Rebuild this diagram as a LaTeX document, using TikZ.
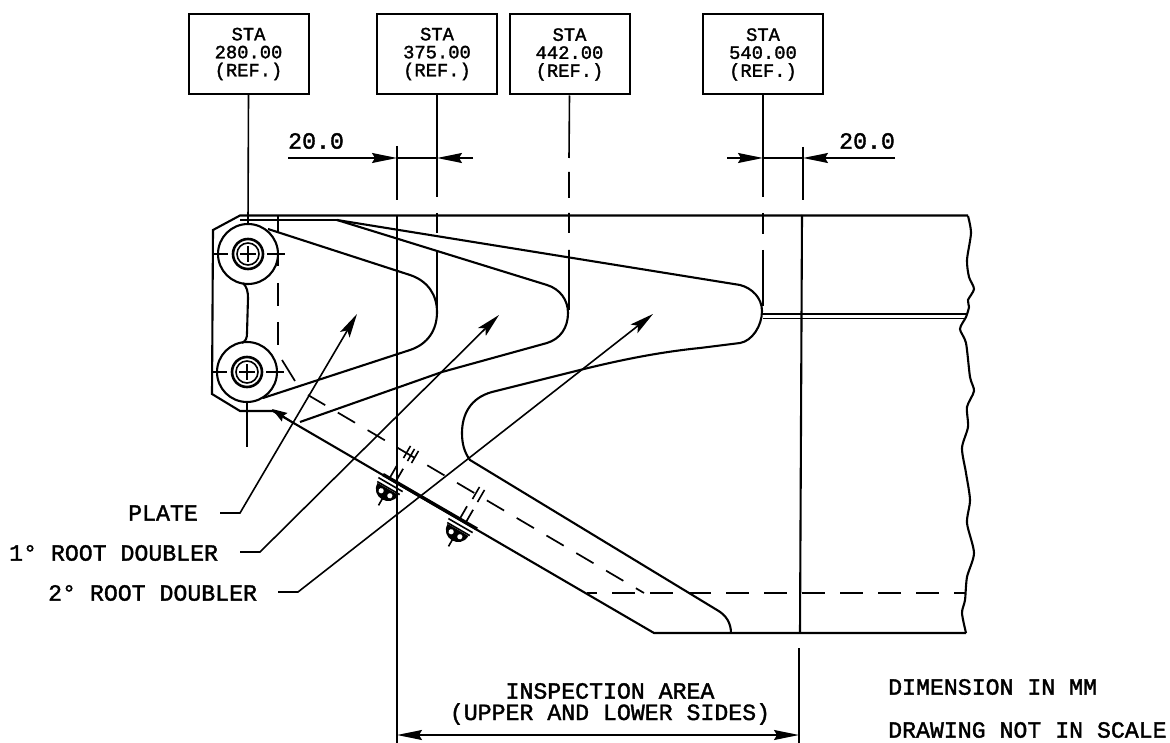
\documentclass[tikz,border=0pt]{standalone}
\usepackage{fontspec}
\setmainfont[FakeBold=1.6]{Liberation Mono}
\usetikzlibrary{arrows.meta}
\tikzset{
  stabox/.style={draw,line width=2pt,minimum width=120pt,minimum height=80pt,inner sep=0pt,align=center,
    font=\fontsize{18.8}{18}\selectfont},
  callout/.style={inner sep=0pt,anchor=west,font=\fontsize{23.2}{22}\selectfont},
  thinline/.style={line width=1.6pt},
  edgeline/.style={line width=2.1pt},
  dimarrow/.style={line width=1.5pt,-{Stealth[length=25pt,width=10pt,inset=3pt]}},
  leader/.style={line width=1.6pt,-{Stealth[length=24pt,width=11pt,inset=5pt]}},
  hidden/.style={line width=1.7pt}
}
\begin{document}
\begin{tikzpicture}[x=1pt,y=-1pt]
\useasboundingbox (0,0) rectangle (1170,743);
% station boxes
\node[stabox] (sta280) at (248.5,54) {STA\\280.00\\(REF.)};
\node[stabox] (sta375) at (437,54) {STA\\375.00\\(REF.)};
\node[stabox] (sta442) at (569.5,54.5) {STA\\442.00\\(REF.)};
\node[stabox] (sta540) at (763,54.5) {STA\\540.00\\(REF.)};
% station lines
\draw[thinline] (sta280.south) -- (248,224);
\draw[thinline] (sta375.south) -- (437,197) (437,213) -- (437,233) (437,252) -- (437,310);
\draw[thinline] (sta442.south) -- (569,158) (569,172) -- (569,198) (569,213) -- (569,233) (569,250) -- (569,310);
\draw[thinline] (sta540.south) -- (763,197) (763,213) -- (763,234) (763,250) -- (763,306);
% inspection limits
\draw[thinline] (397,146) -- (397,200);
\draw[edgeline] (397,215) -- (397,743);
\draw[thinline] (803,147) -- (803,200);
\draw[edgeline] (802,215) -- (800,633);
\draw[thinline] (799,648) -- (799,743);
% outer panel
\draw[edgeline] (968,215.5) -- (240,215.5) -- (213,230) -- (212,394) -- (240,411) -- (273,411) -- (654,633) -- (966,633);
\draw[edgeline] (240,220) -- (337,220);
\draw[edgeline] plot[smooth,tension=0.45] coordinates {(968,216) (971,233) (967,260) (969,277) (974,289) (968,300) (969,307) (966,317)
  (960,329) (966,343) (970,377) (974,391) (967,407) (968,427) (962,448) (966,473) (970,500) (967,523) (974,553) (967,577) (965,600) (962,613) (966,633)};
\draw[thinline] (763,314) -- (966,314) (763,318.5) -- (965,318.5);
% plate
\draw[edgeline] (268,229) -- (410,275) .. controls (428,281) and (437,295) .. (437,312)
  .. controls (437,330) and (428,344) .. (410,350) -- (263,398);
% 1 deg root doubler
\draw[edgeline] (337,220) -- (547,285) .. controls (560,289) and (568,300) .. (568,313)
  .. controls (568,328) and (560,339) .. (547,343) -- (442,372) -- (300,422);
% 2 deg root doubler
\draw[edgeline] (337,220) -- (740,285) .. controls (752,288) and (762,298) .. (762,311)
  .. controls (762,326) and (752,341) .. (740,343) -- (700,348) .. controls (660,352) and (620,360) .. (580,370) -- (492,392)
  .. controls (470,398) and (462,415) .. (462,433) .. controls (462,443) and (464,452) .. (470,460)
  -- (717,610) .. controls (726,615) and (731,623) .. (731,633);
% attach holes
\foreach \cx/\cy in {248/254,247/372}{
  \draw[edgeline] (\cx,\cy) circle (30);
  \draw[line width=2.6pt] (\cx,\cy) circle (15);
  \draw[thinline] (\cx,\cy) circle (11);
  \draw[line width=1.2pt] (\cx-8,\cy) -- (\cx+8,\cy) (\cx,\cy-8) -- (\cx,\cy+8);
  \draw[thinline] (\cx-35,\cy) -- (\cx-20,\cy) (\cx+19,\cy) -- (\cx+37,\cy);
}
\draw[edgeline] (243,283) .. controls (247,287) and (248,292) .. (248,298) -- (247,333) .. controls (247,338) and (246,341) .. (242,343);
\draw[thinline] (247,402) -- (247,447);
% hidden edges
\draw[hidden] (278,215) -- (278,232) (278,250) -- (278,266) (278,283) -- (278,306) (278,322) -- (278,345);
\draw[hidden] (282,360) -- (295,381);
\draw[hidden,dash pattern=on 20pt off 14.6pt] (308,395) -- (644,593);
\draw[hidden,dash pattern=on 23pt off 15pt,dash phase=13pt] (587,593) -- (966,593);
% small arrow on the edge
\draw[line width=1.6pt,-{Stealth[length=15pt,width=10pt,inset=2pt]}] (295,424) -- (272,409);
% fasteners
\draw[line width=3.4pt] (383,474.5) -- (477,529);
\foreach \bx/\by in {392/482,462/523}{
  \begin{scope}[shift={(\bx,\by)},rotate=-30]
    \draw[line width=1.7pt] (-4,-2) -- (-4,-17) (3,-2) -- (3,-17);
    \draw[line width=1.6pt] (-14,3) -- (14,3);
    \draw[line width=1.6pt] (-13,7) -- (13,7);
    \fill (-12,8) .. controls (-12,24) and (12,24) .. (12,8) -- cycle;
    \fill[white] (-5,13) circle (2.6) (5,13) circle (2.6);
    \draw[line width=1.6pt] (0,18) -- (0,27);
  \end{scope}
}
\foreach \mx/\my in {407/452,411/455,415/457,476/493,481/496}{
  \begin{scope}[shift={(\mx,\my)},rotate=-30]
    \draw[thinline] (0,-7) -- (0,7);
  \end{scope}
}
% dimensions
\coordinate (dima) at (288,158);
\coordinate (dimb) at (473,158);
\coordinate (dimc) at (727,158);
\coordinate (dimd) at (895,158);
\draw[dimarrow] (dima) -- (397,158);
\draw[dimarrow] (dimb) -- (437,158);
\draw[dimarrow] (dimc) -- (763,158);
\draw[dimarrow] (dimd) -- (803,158);
\draw[line width=1.5pt] (397,158) -- (437,158) (763,158) -- (803,158);
\node[callout] (lblleft) at (288,141) {20.0};
\node[callout] (lblright) at (839,141) {20.0};
\draw[line width=1.5pt,{Stealth[length=25pt,width=10pt,inset=3pt]}-{Stealth[length=25pt,width=10pt,inset=3pt]}] (397,735) -- (799,735);
\node[callout,anchor=center] (lblarea) at (610,691) {INSPECTION AREA};
\node[callout,anchor=center] (lblsides) at (610,714) {(UPPER AND LOWER SIDES)};
\node[callout] (lblunits) at (888,687) {DIMENSION IN MM};
\node[callout] (lblscale) at (888,730) {DRAWING NOT IN SCALE};
% callouts
\node[callout] (lblplate) at (128,513) {PLATE};
\node[callout] (lblfirst) at (9,553) {1° ROOT DOUBLER};
\node[callout] (lblsecond) at (48,593) {2° ROOT DOUBLER};
\coordinate (tipplate) at (357,314);
\coordinate (tipfirst) at (499,315);
\coordinate (tipsecond) at (653,314);
\draw[leader] (220,513) -- (240,513) -- (tipplate);
\draw[leader] (240,552) -- (260,552) -- (tipfirst);
\draw[leader] (278,592) -- (298,592) -- (tipsecond);
\end{tikzpicture}
\end{document}
